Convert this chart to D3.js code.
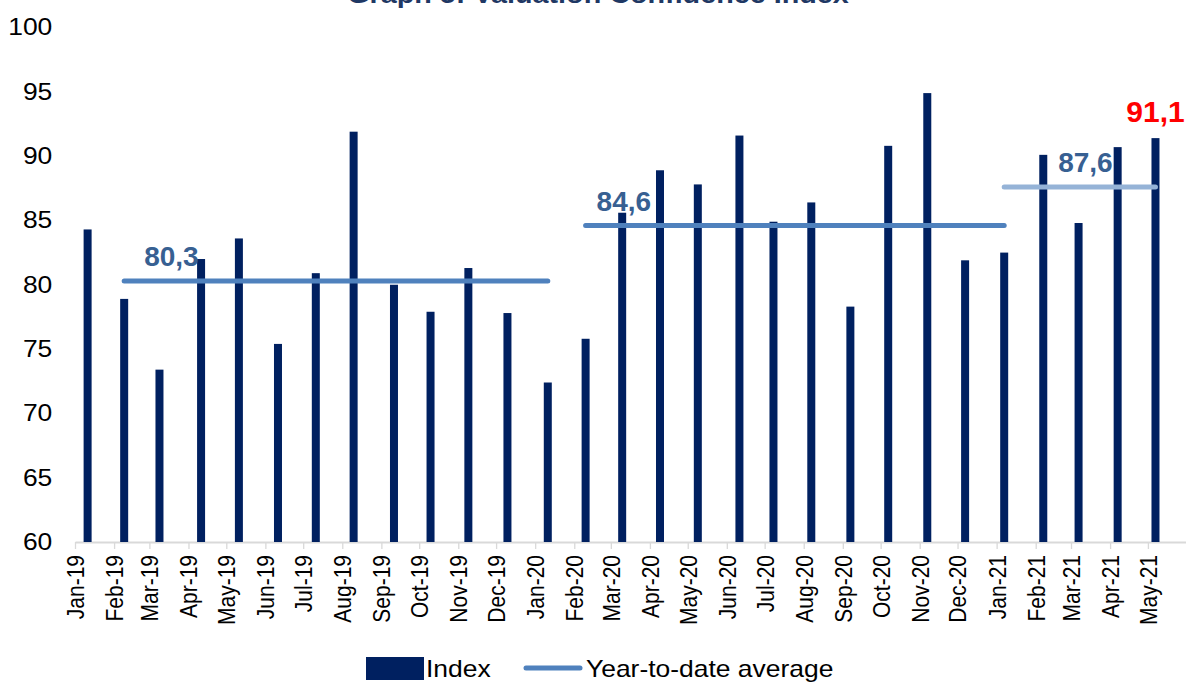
<!DOCTYPE html>
<html>
<head>
<meta charset="utf-8">
<script src="https://cdn.jsdelivr.net/npm/d3@7"></script>
<style>
  body { margin: 0; background: #fff; }
  svg { display: block; font-family: "Liberation Sans", Arial, sans-serif; }
</style>
</head>
<body>
<div id="chart"></div>
<script>
// month labels, survey dates and index values
const months = ["Jan-19","Feb-19","Mar-19","Apr-19","May-19","Jun-19","Jul-19","Aug-19","Sep-19","Oct-19","Nov-19","Dec-19",
  "Jan-20","Feb-20","Mar-20","Apr-20","May-20","Jun-20","Jul-20","Aug-20","Sep-20","Oct-20","Nov-20","Dec-20",
  "Jan-21","Feb-21","Mar-21","Apr-21","May-21"];
const surveyDates = ["2019-01-11","2019-02-09","2019-03-09","2019-04-11","2019-05-11","2019-06-11","2019-07-11","2019-08-10",
  "2019-09-11","2019-10-10","2019-11-09","2019-12-10","2020-01-11","2020-02-10","2020-03-10","2020-04-09","2020-05-09",
  "2020-06-11","2020-07-08","2020-08-07","2020-09-07","2020-10-07","2020-11-07","2020-12-07","2021-01-07","2021-02-07",
  "2021-03-07","2021-04-07","2021-05-07"];
const indexValues = [84.3, 78.9, 73.4, 82.0, 83.6, 75.4, 80.9, 91.9, 80.0, 77.9, 81.3, 77.8,
  72.4, 75.8, 85.6, 88.9, 87.8, 91.6, 84.9, 86.4, 78.3, 90.8, 94.9, 81.9,
  82.5, 90.1, 84.8, 90.7, 91.4];

// year-to-date averages: value, first and last month of the segment
const avgValues = [80.3, 84.6, 87.6];
const avgFrom = ["Feb-19", "Feb-20", "Jan-21"];
const avgTo = ["Jan-20", "Jan-21", "May-21"];
const latestLabel = "91,1";

const yTicks = [60, 65, 70, 75, 80, 85, 90, 95, 100];

const W = 1186, H = 682;
const STRETCH = 1.15; // the original picture is a bit wider than tall
const parse = d3.timeParse("%Y-%m-%d");
const fmt = v => d3.format(".1f")(v).replace(".", ",");

const data = months.map((m, i) => ({ month: m, date: parse(surveyDates[i]), value: indexValues[i] }));
const byMonth = new Map(data.map(d => [d.month, d]));

const svg = d3.select("#chart").append("svg")
  .attr("width", W)
  .attr("height", H)
  .attr("viewBox", [0, 0, W, H]);

const x = d3.scaleTime()
  .domain([new Date(2019, 0, 1), new Date(2021, 5, 1)])
  .range([75, 1187]);
const y = d3.scaleLinear().domain([60, 100]).range([542, 27.5]);

// title (cut off at the top in the original)
svg.append("g")
  .attr("transform", `translate(598,3) scale(${STRETCH},1)`)
  .append("text")
  .attr("text-anchor", "middle")
  .attr("font-size", 25)
  .attr("font-weight", "bold")
  .attr("fill", "#1F3864")
  .text("Graph 5: Valuation Confidence Index");

// y axis, labels only
const yAxis = svg.append("g")
  .attr("transform", "translate(52.3,0)")
  .call(d3.axisLeft(y).tickValues(yTicks).tickSize(0).tickPadding(0));
yAxis.select(".domain").remove();
yAxis.selectAll("text")
  .attr("transform", `scale(${STRETCH},1)`)
  .attr("font-size", 23)
  .attr("fill", "#000");

// x axis: date axis with a tick at every month start
const monthStarts = d3.timeMonth.range(new Date(2019, 0, 1), new Date(2021, 5, 1));
const xAxis = svg.append("g")
  .attr("transform", `translate(0,${y(60)})`)
  .call(d3.axisBottom(x).tickValues(monthStarts).tickFormat((d, i) => months[i]).tickSize(7).tickSizeOuter(0));
xAxis.select(".domain").attr("stroke", "#D9D9D9").attr("stroke-width", 2);
xAxis.selectAll(".tick line").attr("stroke", "#D9D9D9").attr("stroke-width", 1.3);
xAxis.selectAll(".tick text")
  .attr("transform", `scale(${STRETCH},1) rotate(-90)`)
  .attr("text-anchor", "end")
  .attr("x", -13)
  .attr("y", 0)
  .attr("dy", "0.35em")
  .attr("font-size", 21)
  .attr("fill", "#000");

// bars
svg.append("g")
  .selectAll("rect")
  .data(data)
  .join("rect")
  .attr("x", d => x(d.date) - 4)
  .attr("width", 8)
  .attr("y", d => y(d.value))
  .attr("height", d => y(60) - y(d.value))
  .attr("fill", "#002060");

// year-to-date average segments
const avgColors = ["#4F81BD", "#4F81BD", "#95B3D7"];
const avgLabelDx = [20, 11, 54];
const avg = avgValues.map((v, i) => ({
  value: v,
  x1: x(byMonth.get(avgFrom[i]).date),
  x2: x(byMonth.get(avgTo[i]).date),
  color: avgColors[i],
  dx: avgLabelDx[i]
}));

svg.append("g")
  .selectAll("line")
  .data(avg)
  .join("line")
  .attr("x1", d => d.x1)
  .attr("x2", d => d.x2)
  .attr("y1", d => y(d.value))
  .attr("y2", d => y(d.value))
  .attr("stroke", d => d.color)
  .attr("stroke-width", 5)
  .attr("stroke-linecap", "round");

svg.append("g")
  .selectAll("text")
  .data(avg)
  .join("text")
  .attr("x", d => d.x1 + d.dx)
  .attr("y", d => y(d.value) - 15)
  .attr("font-size", 28)
  .attr("font-weight", "bold")
  .attr("fill", "#376092")
  .text(d => fmt(d.value));

// latest value callout
const last = data[data.length - 1];
svg.append("text")
  .attr("x", x(last.date))
  .attr("y", y(last.value) - 16)
  .attr("text-anchor", "middle")
  .attr("font-size", 30)
  .attr("font-weight", "bold")
  .attr("fill", "#FF0000")
  .text(latestLabel);

// legend
const legend = svg.append("g");
legend.append("rect")
  .attr("x", 366).attr("y", 657)
  .attr("width", 58).attr("height", 23)
  .attr("fill", "#002060");
legend.append("g")
  .attr("transform", `translate(426,677) scale(${STRETCH},1)`)
  .append("text")
  .attr("font-size", 23)
  .text("Index");
legend.append("line")
  .attr("x1", 526).attr("x2", 580)
  .attr("y1", 668).attr("y2", 668)
  .attr("stroke", "#4F81BD")
  .attr("stroke-width", 5)
  .attr("stroke-linecap", "round");
legend.append("g")
  .attr("transform", `translate(586,677) scale(${STRETCH},1)`)
  .append("text")
  .attr("font-size", 23)
  .text("Year-to-date average");
</script>
</body>
</html>
